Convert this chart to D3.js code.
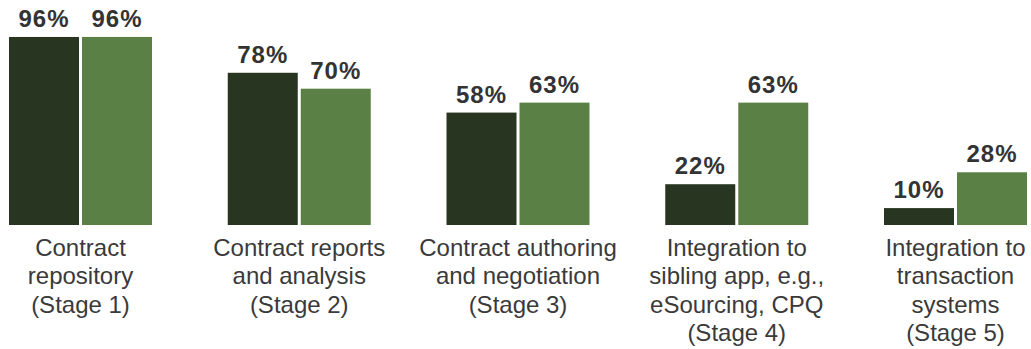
<!DOCTYPE html>
<html>
<head>
<meta charset="utf-8">
<script src="https://cdn.jsdelivr.net/npm/d3@7"></script>
<style>
  body { margin: 0; background: #fff; }
  svg { display: block; }
</style>
</head>
<body>
<div id="wrapper"></div>
<script>
// chart data
const categories = [
  ["Contract", "repository", "(Stage 1)"],
  ["Contract reports", "and analysis", "(Stage 2)"],
  ["Contract authoring", "and negotiation", "(Stage 3)"],
  ["Integration to", "sibling app, e.g.,", "eSourcing, CPQ", "(Stage 4)"],
  ["Integration to", "transaction", "systems", "(Stage 5)"]
];
const seriesA = [96, 78, 58, 22, 10];
const seriesB = [96, 70, 63, 63, 28];
const colors = ["#273521", "#5b8045"];

const width = 1031, height = 349;
const baseline = 225;
const font = "Liberation Sans, Arial, Helvetica, sans-serif";

const svg = d3.select("#wrapper")
  .append("svg")
  .attr("width", width)
  .attr("height", height);

const x0 = d3.scaleBand()
  .domain(d3.range(categories.length))
  .range([9, 1027])
  .paddingInner(0.3463)
  .paddingOuter(0);

const x1 = d3.scaleBand()
  .domain([0, 1])
  .range([0, x0.bandwidth()])
  .paddingInner(3 / 73);

const y = d3.scaleLinear()
  .domain([0, 100])
  .range([baseline + 3, baseline + 3 - 199]);

const rows = categories.map((c, i) => ({ i, vals: [seriesA[i], seriesB[i]] }));

const groups = svg.append("g")
  .selectAll("g")
  .data(rows)
  .enter()
  .append("g")
  .attr("transform", d => `translate(${x0(d.i)},0)`);

const bars = groups.selectAll("g.bar")
  .data(d => d.vals.map((v, k) => ({ v, k })))
  .enter()
  .append("g")
  .attr("class", "bar");

bars.append("rect")
  .attr("x", d => x1(d.k))
  .attr("y", d => y(d.v))
  .attr("width", x1.bandwidth())
  .attr("height", d => baseline - y(d.v))
  .attr("fill", d => colors[d.k]);

bars.append("text")
  .attr("x", d => x1(d.k) + x1.bandwidth() / 2)
  .attr("y", d => y(d.v) - 10)
  .attr("text-anchor", "middle")
  .attr("font-family", font)
  .attr("font-weight", "bold")
  .attr("font-size", 24)
  .attr("letter-spacing", 1)
  .attr("fill", "#333")
  .text(d => d.v + "%");

// category labels
const labels = groups.append("text")
  .attr("text-anchor", "middle")
  .attr("font-family", font)
  .attr("font-size", 24)
  .attr("fill", "#3a3a3a");

labels.selectAll("tspan")
  .data(d => categories[d.i])
  .enter()
  .append("tspan")
  .attr("x", x0.bandwidth() / 2)
  .attr("y", (d, j) => 256 + j * 28.3)
  .text(d => d);
</script>
</body>
</html>
